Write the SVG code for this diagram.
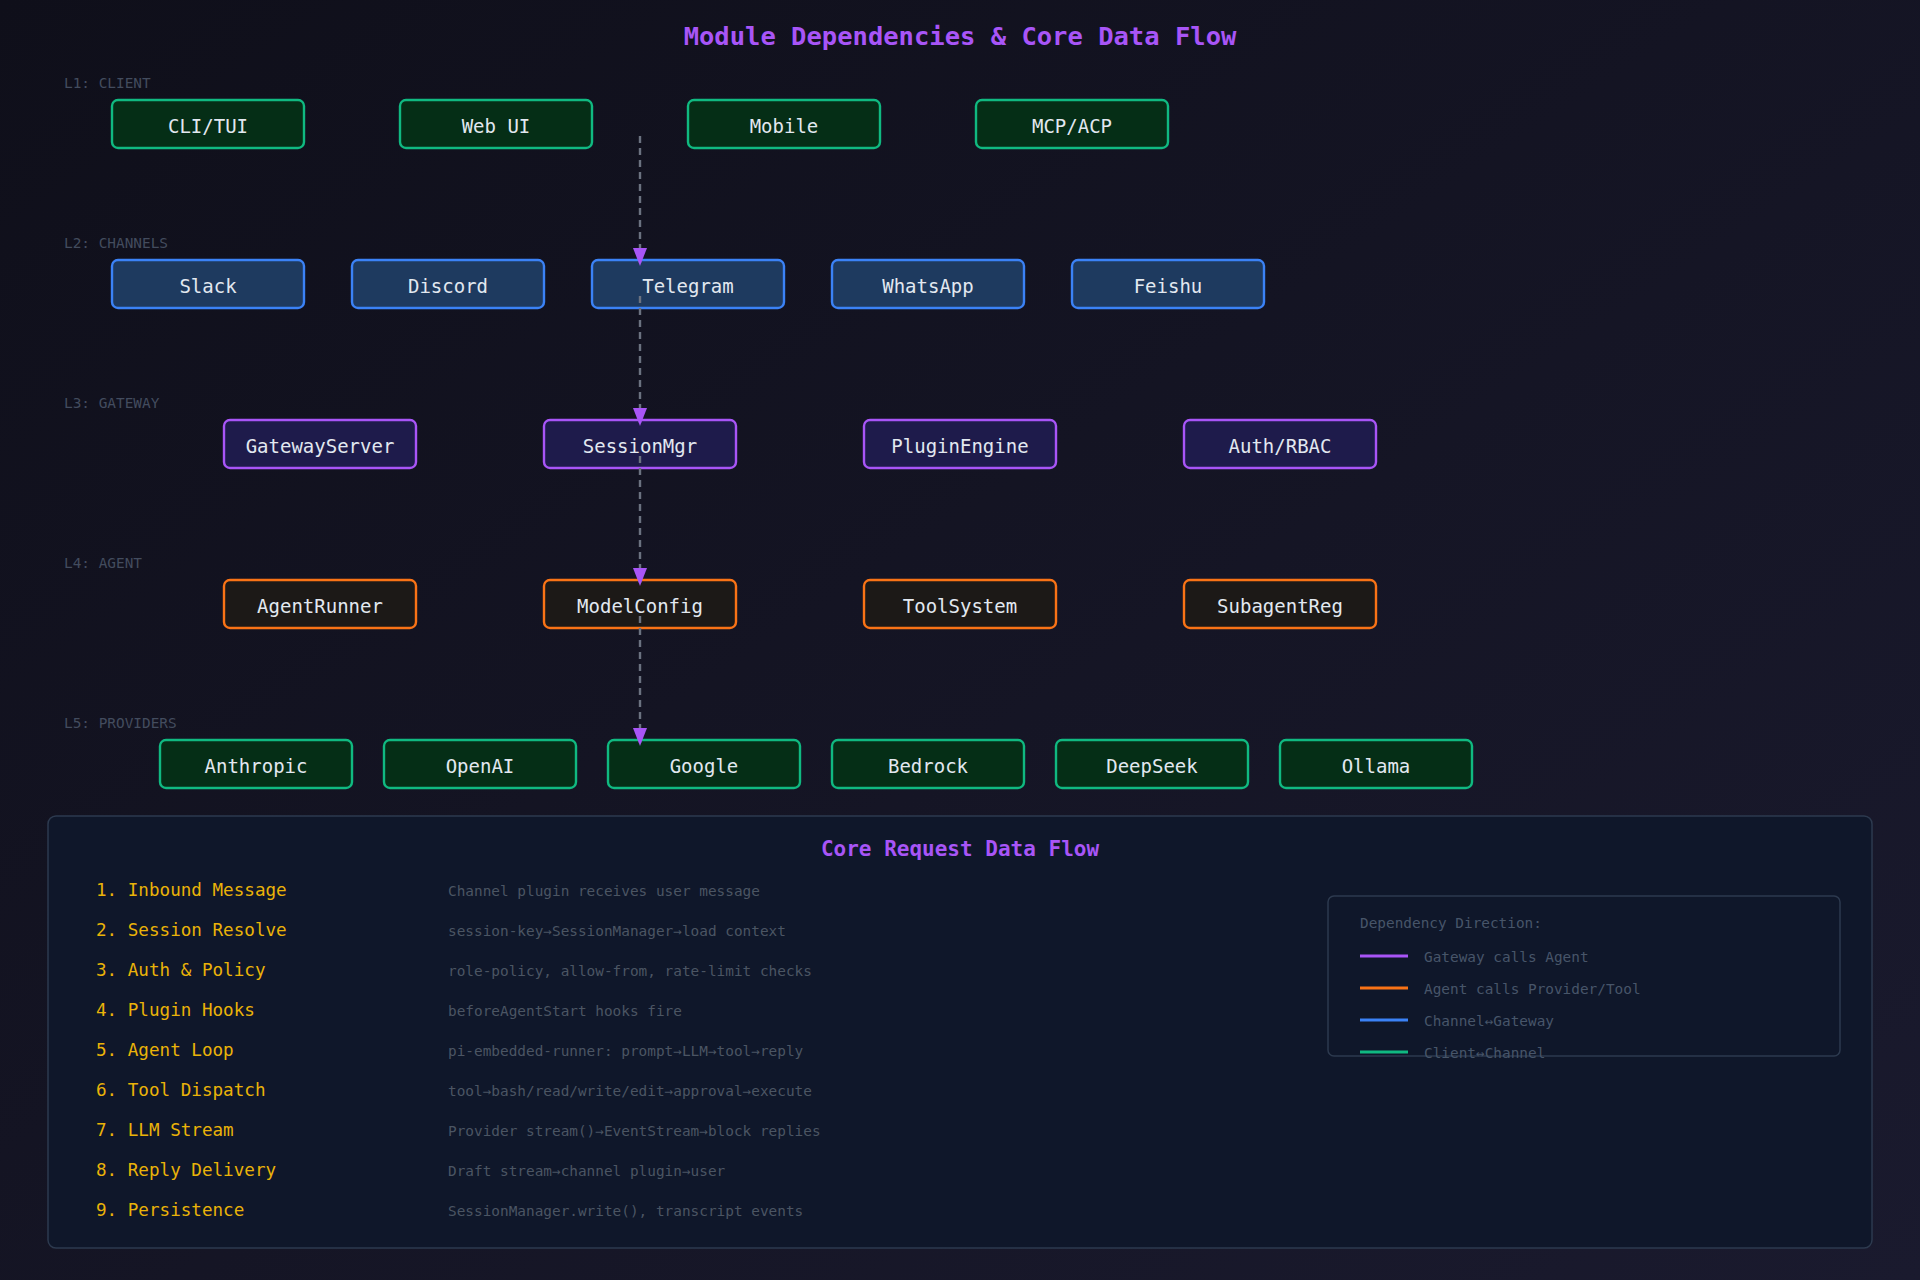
<svg xmlns="http://www.w3.org/2000/svg" width="1920" height="1280" viewBox="0 0 1920 1280">
  <defs>
    <linearGradient id="bg" x1="0" y1="0" x2="1" y2="1">
      <stop offset="0" stop-color="#0f0f1a"/>
      <stop offset="1" stop-color="#1a1a2e"/>
    </linearGradient>
    <marker id="arrow" viewBox="0 0 18 14" refX="18" refY="7" markerWidth="18" markerHeight="14" markerUnits="userSpaceOnUse" orient="auto">
      <path d="M0,0 L18,7 L0,14 Z" fill="#a855f7"/>
    </marker>
    <style>
      .title { font-family: "DejaVu Sans Mono", "Liberation Mono", monospace; font-weight: bold; fill: #a855f7; }
      .layer { font-family: "DejaVu Sans Mono", "Liberation Mono", monospace; font-size: 14.4px; fill: #434c5e; }
      .node rect { stroke-width: 2.4; }
      .node text { font-family: "DejaVu Sans Mono", "Liberation Mono", monospace; font-size: 19px; fill: #e2e8f0; text-anchor: middle; }
      .client rect, .provider rect { fill: #052e16; stroke: #10b981; }
      .channel rect { fill: #1e3a5f; stroke: #3b82f6; }
      .gateway rect { fill: #1e1b4b; stroke: #a855f7; }
      .agent rect { fill: #1c1917; stroke: #f97316; }
      .conn line { stroke: #6b7280; stroke-width: 2.4; stroke-dasharray: 7 5; }
      .step { font-family: "DejaVu Sans Mono", "Liberation Mono", monospace; font-size: 17.6px; fill: #eab308; }
      .desc { font-family: "DejaVu Sans Mono", "Liberation Mono", monospace; font-size: 14.4px; fill: #4b5563; }
      .leg { font-family: "DejaVu Sans Mono", "Liberation Mono", monospace; font-size: 14.4px; fill: #475569; }
    </style>
  </defs>

  <rect x="0" y="0" width="1920" height="1280" fill="url(#bg)"/>

  <text class="title" x="960" y="45" font-size="25.5" text-anchor="middle">Module Dependencies &amp; Core Data Flow</text>

  <!-- Layer labels -->
  <text class="layer" x="64" y="88">L1: CLIENT</text>
  <text class="layer" x="64" y="248">L2: CHANNELS</text>
  <text class="layer" x="64" y="408">L3: GATEWAY</text>
  <text class="layer" x="64" y="568">L4: AGENT</text>
  <text class="layer" x="64" y="728">L5: PROVIDERS</text>

  <!-- L1 Client -->
  <g id="cli-tui" class="node client"><rect x="112" y="100" width="192" height="48" rx="6"/><text x="208" y="132.5">CLI/TUI</text></g>
  <g id="web-ui" class="node client"><rect x="400" y="100" width="192" height="48" rx="6"/><text x="496" y="132.5">Web UI</text></g>
  <g id="mobile" class="node client"><rect x="688" y="100" width="192" height="48" rx="6"/><text x="784" y="132.5">Mobile</text></g>
  <g id="mcp-acp" class="node client"><rect x="976" y="100" width="192" height="48" rx="6"/><text x="1072" y="132.5">MCP/ACP</text></g>

  <!-- L2 Channels -->
  <g id="slack" class="node channel"><rect x="112" y="260" width="192" height="48" rx="6"/><text x="208" y="292.5">Slack</text></g>
  <g id="discord" class="node channel"><rect x="352" y="260" width="192" height="48" rx="6"/><text x="448" y="292.5">Discord</text></g>
  <g id="telegram" class="node channel"><rect x="592" y="260" width="192" height="48" rx="6"/><text x="688" y="292.5">Telegram</text></g>
  <g id="whatsapp" class="node channel"><rect x="832" y="260" width="192" height="48" rx="6"/><text x="928" y="292.5">WhatsApp</text></g>
  <g id="feishu" class="node channel"><rect x="1072" y="260" width="192" height="48" rx="6"/><text x="1168" y="292.5">Feishu</text></g>

  <!-- L3 Gateway -->
  <g id="gatewayserver" class="node gateway"><rect x="224" y="420" width="192" height="48" rx="6"/><text x="320" y="452.5">GatewayServer</text></g>
  <g id="sessionmgr" class="node gateway"><rect x="544" y="420" width="192" height="48" rx="6"/><text x="640" y="452.5">SessionMgr</text></g>
  <g id="pluginengine" class="node gateway"><rect x="864" y="420" width="192" height="48" rx="6"/><text x="960" y="452.5">PluginEngine</text></g>
  <g id="auth-rbac" class="node gateway"><rect x="1184" y="420" width="192" height="48" rx="6"/><text x="1280" y="452.5">Auth/RBAC</text></g>

  <!-- L4 Agent -->
  <g id="agentrunner" class="node agent"><rect x="224" y="580" width="192" height="48" rx="6"/><text x="320" y="612.5">AgentRunner</text></g>
  <g id="modelconfig" class="node agent"><rect x="544" y="580" width="192" height="48" rx="6"/><text x="640" y="612.5">ModelConfig</text></g>
  <g id="toolsystem" class="node agent"><rect x="864" y="580" width="192" height="48" rx="6"/><text x="960" y="612.5">ToolSystem</text></g>
  <g id="subagentreg" class="node agent"><rect x="1184" y="580" width="192" height="48" rx="6"/><text x="1280" y="612.5">SubagentReg</text></g>

  <!-- L5 Providers -->
  <g id="anthropic" class="node provider"><rect x="160" y="740" width="192" height="48" rx="6"/><text x="256" y="772.5">Anthropic</text></g>
  <g id="openai" class="node provider"><rect x="384" y="740" width="192" height="48" rx="6"/><text x="480" y="772.5">OpenAI</text></g>
  <g id="google" class="node provider"><rect x="608" y="740" width="192" height="48" rx="6"/><text x="704" y="772.5">Google</text></g>
  <g id="bedrock" class="node provider"><rect x="832" y="740" width="192" height="48" rx="6"/><text x="928" y="772.5">Bedrock</text></g>
  <g id="deepseek" class="node provider"><rect x="1056" y="740" width="192" height="48" rx="6"/><text x="1152" y="772.5">DeepSeek</text></g>
  <g id="ollama" class="node provider"><rect x="1280" y="740" width="192" height="48" rx="6"/><text x="1376" y="772.5">Ollama</text></g>

  <!-- Connectors -->
  <g id="connectors" class="conn">
    <line x1="640" y1="136" x2="640" y2="266" marker-end="url(#arrow)"/>
    <line x1="640" y1="296" x2="640" y2="426" marker-end="url(#arrow)"/>
    <line x1="640" y1="456" x2="640" y2="586" marker-end="url(#arrow)"/>
    <line x1="640" y1="616" x2="640" y2="746" marker-end="url(#arrow)"/>
  </g>

  <!-- Core Request Data Flow panel -->
  <g id="data-flow-panel">
    <rect x="48" y="816" width="1824" height="432" rx="8" fill="#0f172a" stroke="#2d3a4f" stroke-width="1.5"/>
    <text class="title" x="960" y="856" font-size="21" text-anchor="middle">Core Request Data Flow</text>

    <text class="step" x="96" y="896">1. Inbound Message</text>
    <text class="step" x="96" y="936">2. Session Resolve</text>
    <text class="step" x="96" y="976">3. Auth &amp; Policy</text>
    <text class="step" x="96" y="1016">4. Plugin Hooks</text>
    <text class="step" x="96" y="1056">5. Agent Loop</text>
    <text class="step" x="96" y="1096">6. Tool Dispatch</text>
    <text class="step" x="96" y="1136">7. LLM Stream</text>
    <text class="step" x="96" y="1176">8. Reply Delivery</text>
    <text class="step" x="96" y="1216">9. Persistence</text>

    <text class="desc" x="448" y="896">Channel plugin receives user message</text>
    <text class="desc" x="448" y="936">session-key→SessionManager→load context</text>
    <text class="desc" x="448" y="976">role-policy, allow-from, rate-limit checks</text>
    <text class="desc" x="448" y="1016">beforeAgentStart hooks fire</text>
    <text class="desc" x="448" y="1056">pi-embedded-runner: prompt→LLM→tool→reply</text>
    <text class="desc" x="448" y="1096">tool→bash/read/write/edit→approval→execute</text>
    <text class="desc" x="448" y="1136">Provider stream()→EventStream→block replies</text>
    <text class="desc" x="448" y="1176">Draft stream→channel plugin→user</text>
    <text class="desc" x="448" y="1216">SessionManager.write(), transcript events</text>
  </g>

  <!-- Legend -->
  <g id="legend">
    <rect x="1328" y="896" width="512" height="160" rx="6" fill="none" stroke="#2d3a4f" stroke-width="1.5"/>
    <text class="leg" x="1360" y="928">Dependency Direction:</text>
    <line x1="1360" y1="956" x2="1408" y2="956" stroke="#a855f7" stroke-width="3"/>
    <text class="leg" x="1424" y="962">Gateway calls Agent</text>
    <line x1="1360" y1="988" x2="1408" y2="988" stroke="#f97316" stroke-width="3"/>
    <text class="leg" x="1424" y="994">Agent calls Provider/Tool</text>
    <line x1="1360" y1="1020" x2="1408" y2="1020" stroke="#3b82f6" stroke-width="3"/>
    <text class="leg" x="1424" y="1026">Channel↔Gateway</text>
    <line x1="1360" y1="1052" x2="1408" y2="1052" stroke="#10b981" stroke-width="3"/>
    <text class="leg" x="1424" y="1058">Client↔Channel</text>
  </g>
</svg>
